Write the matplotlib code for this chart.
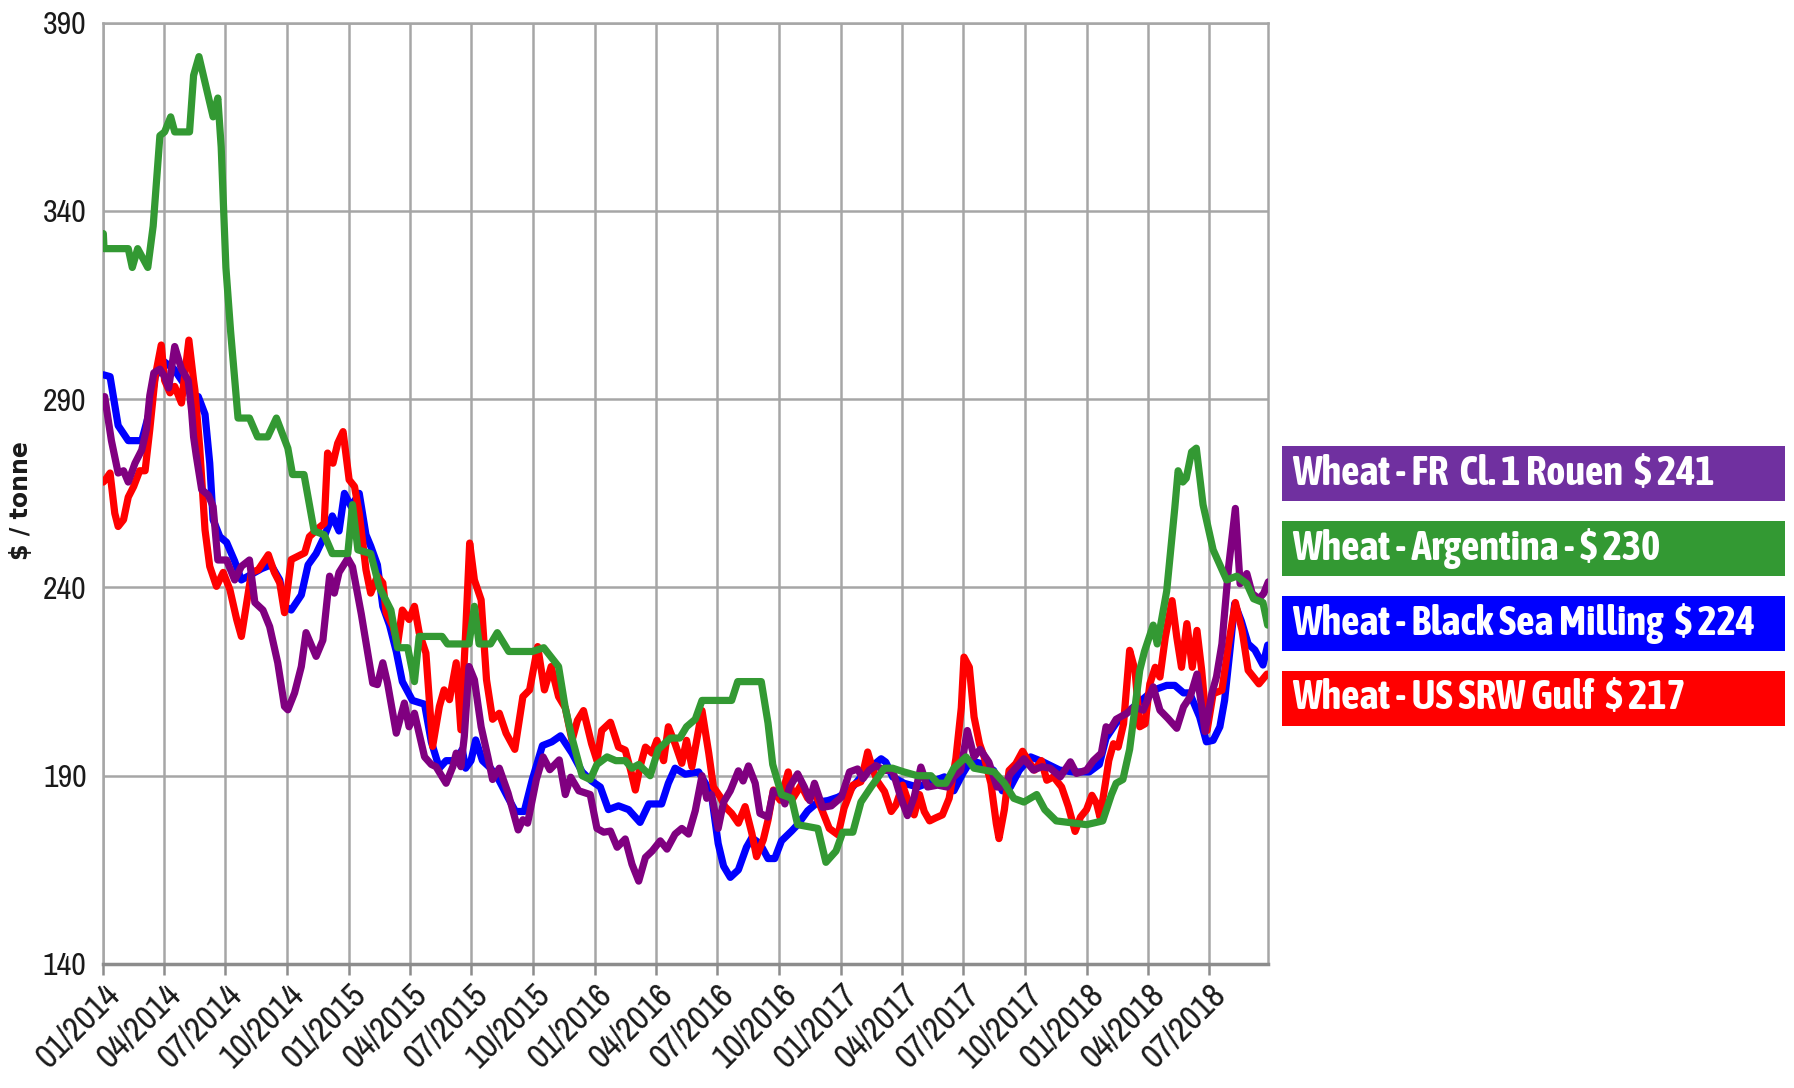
import numpy as np
import pandas as pd
import matplotlib
matplotlib.use('Agg')
import matplotlib.pyplot as plt
import matplotlib.dates as mdates
from matplotlib import font_manager
from matplotlib.font_manager import FontProperties
from matplotlib.patches import Rectangle


def _num(v, table, default):
    if isinstance(v, str):
        return table.get(v, default)
    return v


def find_narrow(bold, target_stretch):
    # look for an installed narrow / condensed face, closest to the wanted width and weight
    found = []
    for f in font_manager.fontManager.ttflist:
        nm = f.name.lower()
        st = _num(f.stretch, font_manager.stretch_dict, 500)
        w = _num(f.weight, font_manager.weight_dict, 400)
        if f.style != 'normal':
            continue
        if not ('narrow' in nm or 'condensed' in nm or st < 500):
            continue
        want_w = 700 if bold else 400
        if abs(w - want_w) > 150:
            continue
        name_rank = 0 if ('liberation' in nm or 'arial' in nm) else (2 if 'dejavu' in nm else 1)
        found.append((abs(st - target_stretch), abs(w - want_w), name_rank, f.fname))
    found.sort()
    return found[0][3] if found else None


narrow_reg = find_narrow(False, 200)
narrow_bold = find_narrow(True, 300)


def fp(size, bold=False):
    path = narrow_bold if bold else narrow_reg
    if path:
        return FontProperties(fname=path, size=size)
    return FontProperties(family='Liberation Sans', size=size * 0.92,
                          weight='bold' if bold else 'normal')


start = pd.Timestamp('2014-01-01')

# (days since 01/2014, $/tonne)
fr_rouen = [(0,290.3),(2,290.7),(12,279),(22,270.4),(30,271),(37,268),(47,273),(57,276.5),(64,282),(69,291),
            (75,297),(84,298),(91,296),(97,293),(106,304),(116,298),(126,295),(131,287),(134,280),(138,275),
            (146,266),(156,264.5),(163,261.5),(170,247.3),(183,247.3),(195,242),(205,245.6),(217,247.3),(225,236),(237,234),
            (247,229.6),(259,220),(269,208.4),(274,207.5),(284,212),(294,219),(301,228),(316,221.7),(326,226),(336,243),
            (343,238.5),(350,244),(363,247.7),(370,245.5),(383,233),(395,220),(400,214.6),(407,214.2),(415,220),(422,214.6),
            (435,201.3),(447,209.3),(454,203),(462,206.6),(477,195),(487,193),(494,192.4),(509,188),(519,192.4),(524,196),
            (531,192.4),(536,200.4),(543,219),(551,215.5),(561,203),(571,195),(578,189),(588,192),(601,185.4),(616,175.6),
            (623,178.3),(630,177.4),(643,189),(653,195),(663,191.6),(677,194.2),(686,185),(694,189.6),(706,186),(723,185),
            (733,176),(743,175),(753,175.3),(763,171),(775,173.2),(785,166.5),(795,162),(805,168.3),(815,170),(827,172.7),
            (837,170.5),(849,174.5),(859,176),(869,174.5),(879,180.7),(889,190),(896,184),(903,185),(913,176),(921,183),
            (931,186),(943,191.3),(950,188.6),(958,192.6),(968,188),(975,180),(987,179),(995,186),(1007,185),(1012,182.5),
            (1019,187),(1031,190.5),(1041,187),(1049,183.4),(1056,188),(1068,181.6),(1081,182),(1096,184.3),(1108,191),(1120,191.8),
            (1128,189.2),(1137,191.4),(1147,192.7),(1160,191.4),(1172,191.4),(1184,184.3),(1194,179.4),(1204,184.3),(1214,192.3),(1224,187),
            (1239,187.5),(1253,187),(1263,189.7),(1273,191.4),(1283,202),(1293,195),(1302,197),(1315,193.6),(1327,187),(1337,187),
            (1347,190.5),(1367,194.5),(1381,191.5),(1394,192.4),(1406,192),(1421,189.7),(1436,193.7),(1445,190.6),(1460,191.5),(1470,194),
            (1482,196),(1489,203),(1494,202),(1504,205),(1519,206.5),(1531,208.3),(1544,207.4),(1559,213.6),(1569,207.4),(1581,205.2),
            (1594,202.6),(1604,208.3),(1614,211),(1624,217),(1631,208.3),(1636,201.7),(1646,211.8),(1653,216.3),(1661,225),(1671,245.5),
            (1681,261),(1688,241),(1698,243.7),(1706,238.4),(1716,237),(1723,238.4),(1730,241.5)]

argentina = [(0,334),(1,330),(37,330),(43,325),(51,330),(66,325),(74,336),(84,360),(91,361),(100,365),
             (106,361),(128,361),(134,376),(142,381),(163,365),(170,370),(175,357),(182,325),(189,308),(200,285),
             (217,285),(229,280),(244,280),(257,285),(274,277),(281,270),(298,270),(313,255),(328,254),(340,249),
             (363,249),(370,262),(378,250),(397,249),(410,240),(427,234),(437,224),(452,224),(462,215),(469,227),
             (503,227),(511,225),(543,225),(551,235),(558,225),(575,225),(585,228),(602,223),(637,223),(654,224),
             (676,219),(686,208),(696,200),(711,190),(723,189),(733,193),(748,195),(761,194),(775,194),(785,192),
             (795,193),(812,190),(824,197),(842,200),(856,200),(866,203),(879,205),(889,210),(933,210),(942,215),
             (977,215),(987,204),(994,193),(1007,185),(1022,184),(1031,177),(1061,176),(1073,167),(1088,170),(1098,175),
             (1113,175),(1125,183),(1140,187),(1160,192),(1172,192),(1189,191),(1209,190),(1229,190),(1239,188),(1251,188),
             (1263,192),(1281,195),(1293,192),(1323,191),(1338,188),(1352,184),(1367,183),(1386,185),(1398,181),(1415,178),
             (1460,177),(1484,178),(1497,185),(1504,188),(1514,189),(1524,197),(1539,218),(1546,223),(1559,230),(1565,225),
             (1579,239),(1591,261),(1596,271),(1603,268),(1608,269),(1616,276),(1623,277),(1633,262),(1648,250),(1668,242),
             (1683,243),(1698,241),(1708,237),(1722,236),(1729,230)]

black_sea = [(0,296.5),(10,296),(22,283),(37,279),(57,279),(69,287),(77,296),(90,300),(105,298),(120,294),
             (136,291),(141,290.7),(151,286),(158,273),(163,258),(173,253.5),(183,252),(195,247),(205,242),(215,243),
             (235,245),(249,246),(262,242),(269,235),(279,234),(294,238),(304,246),(316,249),(328,253.5),(340,259),
             (350,255),(358,265),(368,261.5),(380,265),(390,254),(397,251),(407,246),(415,235),(425,230),(435,223),
             (444,215),(459,210),(477,209),(487,199),(499,192),(509,194),(524,194),(533,197),(538,192),(546,194),
             (553,199.5),(563,194),(575,192),(587,189),(600,184.5),(612,180.5),(625,180.5),(637,189),(652,198),(666,199),
             (679,200.6),(696,196),(711,191),(725,188.6),(738,187),(750,181),(765,182),(780,181),(797,177.6),(810,182.5),
             (829,182.5),(839,188),(849,192),(864,190.4),(884,191),(894,188),(903,185),(913,172),(921,166),(931,163),
             (943,165),(955,171),(963,173.5),(975,172),(987,168),(997,168),(1007,172.7),(1022,175.3),(1031,177),(1046,180.7),
             (1061,183),(1076,183.4),(1091,184.3),(1108,186),(1125,189.7),(1140,192.3),(1155,194.5),(1162,193.6),(1172,189.7),(1189,188),
             (1209,187),(1234,188.7),(1249,189.7),(1263,186),(1276,190.5),(1288,194),(1308,193),(1322,191.4),(1335,186),(1347,187),
             (1360,191.4),(1377,195),(1395,193.7),(1420,191.5),(1440,191),(1464,191),(1479,193),(1489,200),(1504,204),(1524,207.4),
             (1539,209.6),(1559,212.7),(1579,214),(1591,214),(1604,212),(1613,212),(1628,205.6),(1638,199),(1648,199.4),(1658,203),
             (1665,210),(1673,223.4),(1680,235.7),(1690,231),(1700,225),(1710,223.4),(1722,219.4),(1729,224.7)]

us_srw = [(0,268),(3,268.6),(10,270.4),(17,259.7),(22,256.2),(30,258),(37,264),(45,266.8),(54,271),(62,271),
          (69,282),(77,296),(86,304.4),(91,295),(99,291.7),(106,293.4),(116,289),(127,305.7),(134,295),(136,292.4),
          (143,277.4),(151,255.3),(158,245.6),(168,240.3),(178,244),(188,239.4),(198,231.5),(205,227),(212,235),(220,244),
          (230,244.7),(245,248.7),(254,244),(262,241.2),(269,233.3),(279,247.4),(289,248.3),(299,249.2),(306,253.5),(321,256),
          (328,257),(333,275.7),(341,273),(348,278.3),(356,281.4),(365,268.6),(373,266.8),(380,259.7),(390,244.7),(397,238.5),
          (407,243),(415,241.2),(420,233.3),(430,229.7),(437,225),(444,234),(454,231.5),(462,235),(469,228),(479,222.6),
          (489,197.8),(499,208.4),(506,212.8),(514,210.2),(524,220),(531,202.2),(538,228),(544,251.8),(551,242),(561,236.7),
          (569,215.5),(578,205),(588,206.6),(598,201.3),(611,197),(623,211),(633,212.8),(645,224.3),(655,212.8),(665,219),
          (676,211),(686,208),(696,199.4),(704,204.7),(713,207.3),(725,198.5),(733,194),(740,202),(753,204.2),(765,197.6),
          (775,196.8),(783,191.5),(790,186.2),(797,192.4),(805,197.6),(815,196),(822,199.4),(832,194),(839,203),(849,198.5),
          (859,193.3),(866,199.4),(874,192.4),(881,199.4),(889,207.3),(899,196),(906,187),(916,184.4),(923,181.8),(933,180),
          (943,177.4),(953,181.8),(963,174.7),(970,168.5),(980,173),(987,178.2),(995,186.2),(1005,183.5),(1009,185.8),(1017,191),
          (1024,184),(1036,187.5),(1046,184),(1056,185.8),(1068,180.5),(1078,176),(1091,174.3),(1100,181.4),(1113,187.5),(1125,188.4),
          (1135,196.3),(1142,192),(1150,188.4),(1160,185.8),(1170,180.5),(1177,182.2),(1187,187.5),(1197,182.2),(1204,179.6),(1212,185),
          (1219,180.5),(1227,178),(1236,178.8),(1246,179.6),(1256,184),(1266,194.6),(1274,208),(1278,221.5),(1286,218.8),(1293,205.6),
          (1301,198.5),(1308,195),(1318,188),(1326,177.3),(1330,173.3),(1338,181),(1345,191.4),(1355,193.2),(1365,196.5),(1375,193.5),
          (1383,191.5),(1393,194),(1401,188.8),(1411,189.7),(1423,187),(1433,181.8),(1443,175.2),(1451,179),(1460,181),(1468,184.8),
          (1475,182.6),(1480,179),(1488,188),(1493,194),(1500,198.5),(1507,197.6),(1515,203.8),(1524,223.3),(1532,218),(1539,203),
          (1547,203.8),(1554,214.4),(1562,218.8),(1569,216.2),(1577,226.8),(1587,236.5),(1594,226.8),(1601,218.8),(1609,230.4),(1617,218.8),
          (1624,228.6),(1631,218),(1639,202),(1648,211.8),(1661,212.7),(1671,225),(1681,236),(1691,228.6),(1700,218),(1708,216.2),
          (1716,214.4),(1728,217)]

legend_labels = ['Wheat - FR  Cl. 1 Rouen  $ 241',
                 'Wheat - Argentina - $ 230',
                 'Wheat - Black Sea Milling  $ 224',
                 'Wheat - US SRW Gulf  $ 217']
legend_colors = ['#7030a0', '#339933', '#0000ff', '#ff0000']

y_ticks = [140, 190, 240, 290, 340, 390]
x_ticks = pd.date_range('2014-01-01', '2018-07-01', freq='QS')


def to_xy(pairs):
    d = np.array([p[0] for p in pairs])
    v = np.array([p[1] for p in pairs])
    return start + pd.to_timedelta(d, unit='D'), v


fig = plt.figure(figsize=(17.94, 10.88), dpi=100)
ax = fig.add_axes([0.0576, 0.114, 0.6494, 0.8651])

# draw order: blue, red, purple, green on top
series = [(black_sea, '#0000ff'), (us_srw, '#ff0000'), (fr_rouen, '#800080'), (argentina, '#339933')]
for s, c in series:
    x, y = to_xy(s)
    ax.plot(x, y, color=c, lw=5.2, solid_joinstyle='round', solid_capstyle='round', zorder=3)

ax.set_ylim(140, 390)
ax.set_xlim(start, start + pd.Timedelta(days=1730))
ax.set_yticks(y_ticks)
ax.set_xticks(x_ticks)
ax.xaxis.set_major_formatter(mdates.DateFormatter('%m/%Y'))
ax.grid(True, color='#a6a6a6', lw=1.8, zorder=0)
for sp in ax.spines.values():
    sp.set_color('#a6a6a6')
    sp.set_linewidth(1.8)
ax.spines['bottom'].set_color('#8c8c8c')
ax.spines['bottom'].set_linewidth(2.5)

ax.tick_params(axis='y', length=0, pad=12, labelcolor='#1a1a1a')
ax.tick_params(axis='x', length=8, width=1.8, color='#8c8c8c', pad=2, labelcolor='#1a1a1a')
for lab in ax.get_yticklabels():
    lab.set_fontproperties(fp(23))
for lab in ax.get_xticklabels():
    lab.set_fontproperties(fp(25))
    lab.set_rotation(45)
    lab.set_ha('right')
    lab.set_va('top')
    lab.set_rotation_mode('anchor')

fig.text(0.0115, 0.54, '$ / tonne', rotation=90, ha='center', va='center',
         fontsize=17, fontweight='bold', color='#1a1a1a')

# coloured legend boxes at the right
box_left = 1282 / 1794
box_w = (1785 - 1282) / 1794
box_tops = [446, 521, 596, 671]
box_h = 55
renderer = fig.canvas.get_renderer()
texts = []
for lab, col, top in zip(legend_labels, legend_colors, box_tops):
    y0 = 1 - (top + box_h) / 1088
    fig.patches.append(Rectangle((box_left, y0), box_w, box_h / 1088, transform=fig.transFigure,
                                 facecolor=col, edgecolor='none'))
    t = fig.text(box_left + 10 / 1794, y0 + box_h / 2 / 1088, lab, ha='left', va='center',
                 color='white', fontproperties=fp(24, bold=True))
    texts.append(t)

# size the legend text so the longest label is as wide as in the reference (~464 px)
w = texts[2].get_window_extent(renderer).width
size = min(30, 24 * 464 / w)
for t in texts:
    t.set_fontsize(size)

fig.savefig('out.png', dpi=100, facecolor='white')
